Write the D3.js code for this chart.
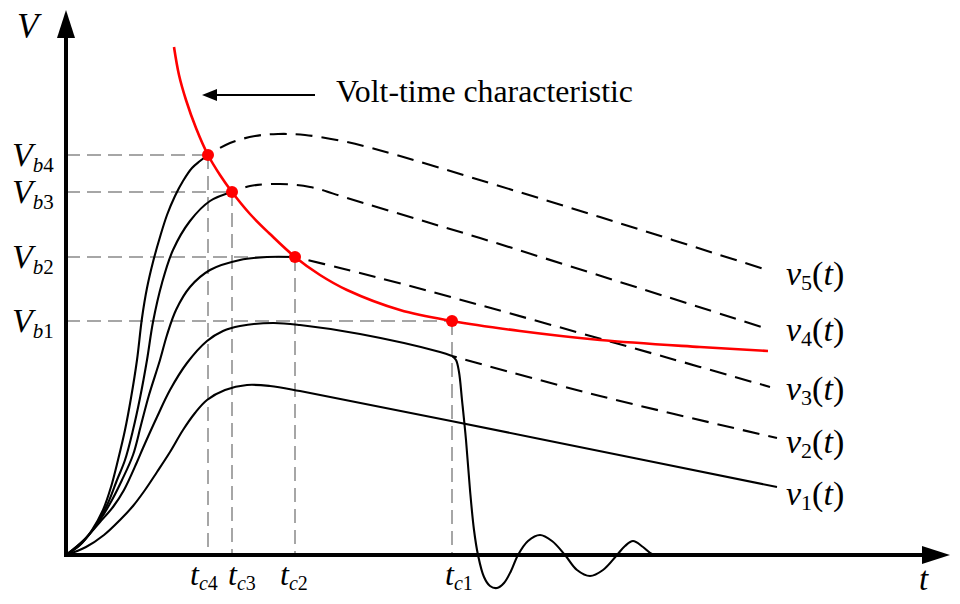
<!DOCTYPE html>
<html>
<head>
<meta charset="utf-8">
<script src="https://cdn.jsdelivr.net/npm/d3@7"></script>
<style>
  html, body { margin: 0; padding: 0; background: #fff; }
  svg { display: block; }
</style>
</head>
<body>
<svg id="chart" width="960" height="604"></svg>
<script>
// ---------- DATA (time t, voltage V in arbitrary units) ----------
// v1(t): lowest surge, no breakdown
const v1T = [0, 2.0, 3.8, 5.4, 6.7, 7.9, 9.1, 10.4, 11.7, 12.9, 14.1, 15.9, 18.1, 20.4, 23.4, 47.4, 71.1];
const v1V = [0, 0.8, 2.0, 3.5, 4.9, 6.5, 8.3, 10.3, 12.5, 14.2, 15.5, 16.5, 17.0, 16.9, 16.4, 11.6, 6.8];

// v2(t): solid until tc1, then chopped with oscillation; dashed prospective continuation
const v2T = [0, 1.8, 3.4, 4.7, 5.8, 7.1, 7.7, 9.1, 10.4, 12.1, 14.1, 15.7, 17.4, 20.7, 23.4, 29.4, 37.4, 38.6];
const v2V = [0, 1.5, 3.3, 4.8, 6.5, 9.3, 10.7, 13.8, 16.5, 19.2, 21.4, 22.4, 22.9, 23.2, 23.0, 22.1, 20.3, 19.9];
const v2ChopT = [38.6, 39.0, 39.3, 39.6, 40.0, 40.4, 40.8, 41.2, 41.8, 42.4, 43.1, 43.8, 44.5, 45.2, 46.2, 47.4, 48.6, 49.9, 51.1, 52.4, 53.7, 55.1, 55.9, 56.7, 57.7, 58.6, 59.6];
const v2ChopV = [19.9, 19.5, 18.3, 15.5, 11.5, 6.5, 2.5, 0, -2.2, -3.1, -3.3, -2.8, -1.6, 0, 1.4, 2.0, 1.4, 0, -1.5, -2.1, -1.5, 0, 0.9, 1.4, 0.8, 0.1, 0];
const v2DashT = [38.6, 53.4, 71.1];
const v2DashV = [19.9, 15.9, 11.7];

// v3(t): solid until tc2, dashed afterwards
const v3T = [0, 1.8, 3.4, 4.6, 5.6, 6.7, 7.5, 8.3, 9.4, 10.1, 11.0, 12.4, 14.4, 17.4, 20.1, 22.9];
const v3V = [0, 1.5, 3.5, 5.5, 7.5, 10.0, 13.0, 16.0, 19.5, 22.0, 24.5, 26.8, 28.5, 29.5, 29.8, 29.8];
const v3DashT = [22.9, 27.4, 35.9, 59.9, 70.4];
const v3DashV = [29.8, 28.7, 26.5, 19.8, 16.8];

// v4(t): solid until tc3, dashed afterwards
const v4T = [0, 1.6, 3.0, 4.2, 5.1, 5.9, 6.7, 7.4, 8.1, 8.7, 9.6, 10.7, 12.4, 14.4, 16.6];
const v4V = [0, 1.2, 3.0, 5.2, 7.5, 9.5, 12.5, 15.7, 19.5, 23.3, 27.2, 30.5, 33.4, 35.4, 36.3];
const v4DashT = [16.6, 18.4, 21.4, 24.4, 28.1, 35.4, 41.4, 69.9];
const v4DashV = [36.3, 36.9, 37.1, 36.8, 35.7, 33.5, 31.7, 22.7];

// v5(t): solid until tc4, dashed afterwards
const v5T = [0, 1.4, 2.6, 3.7, 4.5, 5.2, 5.9, 6.5, 7.1, 7.6, 8.1, 8.7, 9.4, 10.1, 10.9, 11.7, 12.6, 13.4, 14.2];
const v5V = [0, 1.0, 2.5, 4.5, 6.8, 9.5, 12.5, 15.7, 19.5, 23.7, 26.7, 29.3, 31.8, 34.0, 35.9, 37.4, 38.7, 39.4, 40.0];
const v5DashT = [14.2, 16.4, 18.9, 21.2, 23.9, 28.1, 33.4, 40.7, 53.4, 70.4];
const v5DashV = [40.0, 41.2, 41.9, 42.1, 42.0, 41.3, 39.9, 37.7, 33.8, 28.4];

// Volt-time characteristic (red)
const vtT = [10.8, 11.3, 12.0, 13.0, 14.2, 15.4, 16.6, 18.4, 20.4, 22.9, 25.4, 28.1, 33.4, 38.6, 45.4, 53.4, 63.4, 70.2];
const vtV = [50.8, 48.0, 45.5, 42.7, 40.0, 38.0, 36.3, 34.1, 32.1, 29.8, 28.0, 26.5, 24.5, 23.4, 22.4, 21.5, 20.8, 20.4];

// Breakdown points (index 0 -> 1, ... 3 -> 4)
const breakdownSub = ["1", "2", "3", "4"];
const tcValues = [38.6, 22.9, 16.6, 14.2];
const vbValues = [23.4, 29.8, 36.3, 40.0];

// Curve labels
const curveNames = ["1", "2", "3", "4", "5"];
const annotation = "Volt-time characteristic";

// ---------- LAYOUT ----------
const W = 960, H = 604;
const FONT = '"Liberation Serif"';
const x = d3.scaleLinear().domain([0, 88]).range([66, 946]);
const y = d3.scaleLinear().domain([0, 54]).range([555, 15]);
const tcLabelDx = [-7, -15, -4, -18];   // label nudges, px (per breakdown index)

const svg = d3.select("#chart");
svg.append("rect").attr("width", W).attr("height", H).attr("fill", "#fff");

const txt = (sel) => sel.append("text").style("font-family", FONT).attr("fill", "#000");

const zip = (ts, vs) => ts.map((t, i) => [t, vs[i]]);
const line = d3.line().x(d => x(d[0])).y(d => y(d[1])).curve(d3.curveCatmullRom.alpha(0.5));

const GRID = "#a6a6a6";

// Grey dashed guide lines
const guides = svg.append("g");
tcValues.forEach((tc, i) => {
  guides.append("line")
    .attr("x1", x(0)).attr("x2", x(tc)).attr("y1", y(vbValues[i])).attr("y2", y(vbValues[i]))
    .attr("stroke", GRID).attr("stroke-width", 2).attr("stroke-dasharray", "14,7");
  guides.append("line")
    .attr("x1", x(tc)).attr("x2", x(tc)).attr("y1", y(vbValues[i])).attr("y2", y(0))
    .attr("stroke", GRID).attr("stroke-width", 2).attr("stroke-dasharray", "14,7");
});

// Curves
const curves = svg.append("g").attr("fill", "none").attr("stroke", "#000").attr("stroke-width", 2.1);
const solids = [zip(v1T, v1V), zip(v2T, v2V), zip(v2ChopT, v2ChopV), zip(v3T, v3V), zip(v4T, v4V), zip(v5T, v5V)];
solids.forEach(d => curves.append("path").attr("d", line(d)));
const dashes = [zip(v2DashT, v2DashV), zip(v3DashT, v3DashV), zip(v4DashT, v4DashV), zip(v5DashT, v5DashV)];
dashes.forEach(d => curves.append("path").attr("d", line(d)).attr("stroke-dasharray", "17,9").attr("stroke-dashoffset", 12));

// Red volt-time curve
svg.append("path").attr("d", line(zip(vtT, vtV)))
  .attr("fill", "none").attr("stroke", "#ff0000").attr("stroke-width", 2.6);
svg.selectAll(".bp").data(tcValues).enter().append("circle")
  .attr("cx", d => x(d)).attr("cy", (d, i) => y(vbValues[i])).attr("r", 6).attr("fill", "#ff0000");

// Axes with arrows
const ax = svg.append("g");
ax.append("line").attr("x1", x(0)).attr("x2", x(0)).attr("y1", y(0) + 2).attr("y2", 36)
  .attr("stroke", "#000").attr("stroke-width", 4);
ax.append("path").attr("d", `M${x(0)},10 L${x(0) - 9},38 L${x(0) + 9},38 Z`).attr("fill", "#000");
ax.append("line").attr("x1", x(0) - 2).attr("x2", 924).attr("y1", y(0)).attr("y2", y(0))
  .attr("stroke", "#000").attr("stroke-width", 4);
ax.append("path").attr("d", `M950,${y(0)} L922,${y(0) - 9} L922,${y(0) + 9} Z`).attr("fill", "#000");

// Axis titles
txt(svg).attr("x", 17).attr("y", 38).attr("font-size", 35).attr("font-style", "italic").text("V");
txt(svg).attr("x", 919).attr("y", 590).attr("font-size", 33).attr("font-style", "italic").text("t");

// Vb labels
vbValues.forEach((vb, i) => {
  const t = txt(svg).attr("x", 12).attr("y", y(vb) + 11).attr("font-size", 34);
  t.append("tspan").attr("font-style", "italic").text("V");
  t.append("tspan").attr("font-size", 21).attr("dy", 6).attr("font-style", "italic").text("b");
  t.append("tspan").attr("font-size", 21).text(breakdownSub[i]);
});

// tc labels
tcValues.forEach((tc, i) => {
  const t = txt(svg).attr("x", x(tc) + tcLabelDx[i]).attr("y", 585).attr("font-size", 32);
  t.append("tspan").attr("font-style", "italic").text("t");
  t.append("tspan").attr("font-size", 20).attr("dy", 5).attr("font-style", "italic").text("c");
  t.append("tspan").attr("font-size", 20).text(breakdownSub[i]);
});

// Curve labels v_n(t)
const labelY = [505, 453, 400, 341, 285];
curveNames.forEach((n, i) => {
  const t = txt(svg).attr("x", 786).attr("y", labelY[i]).attr("font-size", 34);
  t.append("tspan").attr("font-style", "italic").text("v");
  t.append("tspan").attr("font-size", 22).attr("dy", 5).text(n);
  t.append("tspan").attr("dy", -5).text("(");
  t.append("tspan").attr("font-style", "italic").text("t");
  t.append("tspan").text(")");
});

// Annotation arrow + text
svg.append("line").attr("x1", 214).attr("x2", 315).attr("y1", 95).attr("y2", 95)
  .attr("stroke", "#000").attr("stroke-width", 2);
svg.append("path").attr("d", "M202,95 L217,89 L217,101 Z").attr("fill", "#000");
txt(svg).attr("x", 336).attr("y", 102).attr("font-size", 31.8).text(annotation);
</script>
</body>
</html>
